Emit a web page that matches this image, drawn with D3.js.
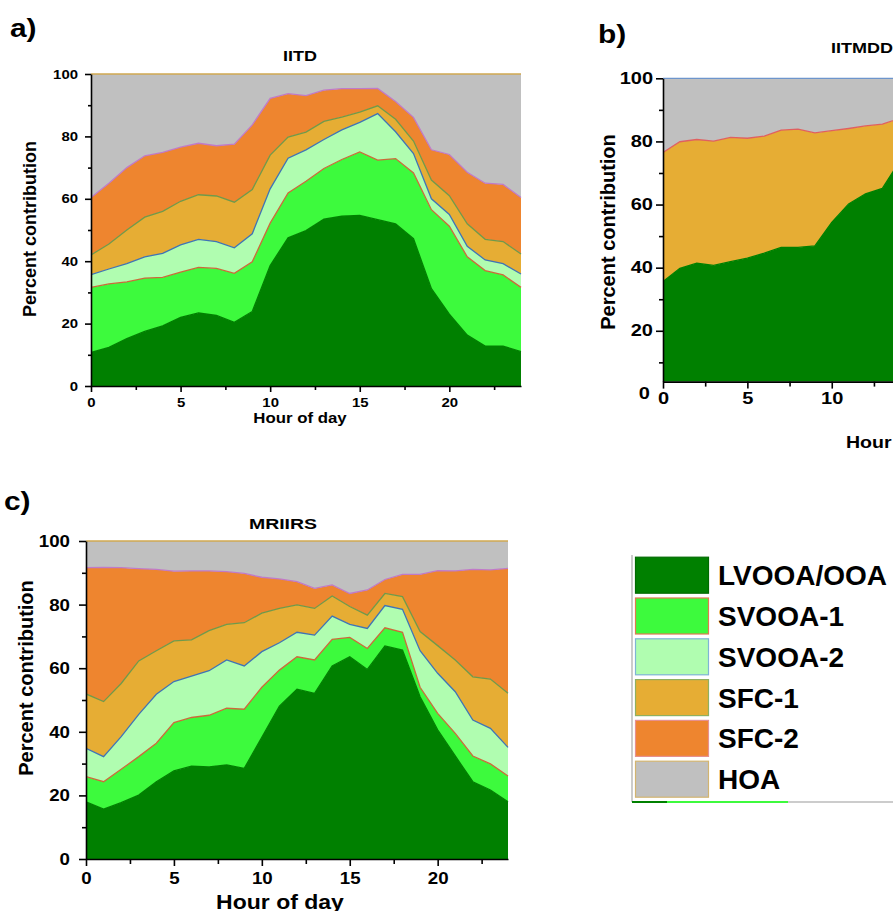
<!DOCTYPE html>
<html>
<head>
<meta charset="utf-8">
<script src="https://cdn.jsdelivr.net/npm/d3@7"></script>
<style>
body { margin: 0; background: #fff; }
text { font-family: "Liberation Sans", Arial, sans-serif; font-weight: bold; }
</style>
</head>
<body>
<div id="chart"></div>
<script>
// hour of day (categories)
var hours = [0,1,2,3,4,5,6,7,8,9,10,11,12,13,14,15,16,17,18,19,20,21,22,23,24];
var hoursB = [0,1,2,3,4,5,6,7,8,9,10,11,12,13,14]; // only the visible part of panel b

var factors = ["LVOOA/OOA", "SVOOA-1", "SVOOA-2", "SFC-1", "SFC-2", "HOA"];
var factorsB = ["LVOOA/OOA", "SFC-1", "HOA"];

// a) IITD, percent contribution per factor
var iitdLVOOA  = [10.8,12.4,15.2,17.5,19.3,22.0,23.4,22.6,20.4,23.9,38.6,47.5,49.8,53.5,54.4,54.7,53.3,52.0,47.2,31.2,23.0,16.3,12.8,12.8,11.0];
var iitdSVOOA1 = [20.8,20.3,18.2,17.1,15.5,14.5,14.6,15.1,15.7,15.9,13.6,14.4,15.8,16.2,18.2,20.3,19.1,20.9,21.1,25.3,28.2,25.1,24.2,22.8,20.6];
var iitdSVOOA2 = [4.1,4.8,5.8,6.8,7.7,8.7,9.0,8.6,8.2,9.0,11.0,11.1,10.1,9.3,9.5,9.5,14.9,8.6,6.2,3.5,3.8,3.4,3.4,3.6,4.3];
var iitdSFC1   = [6.3,8.0,10.8,12.7,13.5,14.0,14.3,14.6,14.6,14.2,10.8,6.8,5.7,5.8,4.1,3.3,2.5,4.0,4.0,6.0,6.0,7.2,6.6,7.1,6.4];
var iitdSFC2   = [18.4,19.5,20.0,19.7,18.9,17.4,16.5,16.1,18.6,20.7,18.2,13.9,11.7,10.0,9.1,7.5,5.6,5.7,7.6,9.7,13.2,16.5,18.0,18.3,18.1];
var iitdHOA    = [39.6,35.0,30.0,26.2,25.1,23.4,22.2,23.0,22.5,16.3,7.8,6.3,6.9,5.2,4.7,4.7,4.6,8.8,13.9,24.3,25.8,31.5,35.0,35.4,39.6];

// b) IITMDD
var iitmddLVOOA = [35.6,39.8,41.4,40.7,41.9,43.0,44.6,46.4,46.4,46.9,54.3,60.2,63.4,65.1,73.5];
var iitmddSFC1  = [40.9,40.1,39.2,39.4,39.4,38.0,37.1,37.2,37.5,35.8,29.1,23.9,21.5,20.4,13.7];
var iitmddHOA   = [23.5,20.1,19.4,19.9,18.7,19.0,18.3,16.4,16.1,17.3,16.6,15.9,15.1,14.5,12.8];

// c) MRIIRS
var mriirsLVOOA  = [18.0,15.7,17.7,20.1,24.3,27.7,29.2,29.0,29.6,28.5,38.3,48.1,53.4,52.1,60.7,63.6,59.6,67.0,65.7,51.0,40.6,32.4,24.3,21.7,18.0];
var mriirsSVOOA1 = [7.9,8.6,10.5,12.1,12.1,15.2,15.3,16.2,17.8,18.6,15.7,11.3,10.2,10.5,8.4,6.1,6.6,5.7,5.6,3.0,5.2,7.1,8.1,8.2,8.1];
var mriirsSVOOA2 = [8.9,7.9,10.3,13.3,15.4,12.9,13.0,14.0,15.2,13.6,11.2,8.6,7.7,7.8,7.3,4.1,6.3,7.0,7.2,11.5,12.6,13.1,11.3,11.2,9.0];
var mriirsSFC1   = [17.1,17.3,16.7,16.8,13.7,12.8,11.4,12.6,11.2,13.6,12.1,10.8,8.6,8.4,6.3,5.6,4.2,3.8,4.0,6.0,8.7,10.0,13.6,15.5,17.0];
var mriirsSFC2   = [39.7,42.2,36.4,29.0,25.6,21.9,21.7,18.8,16.6,15.5,11.3,9.3,7.3,6.3,3.5,4.1,7.9,4.4,7.0,18.0,23.6,28.0,33.8,34.3,39.3];
var mriirsHOA    = [8.4,8.3,8.4,8.7,8.9,9.5,9.4,9.4,9.6,10.2,11.4,11.9,12.8,14.9,13.8,16.5,15.4,12.1,10.5,10.5,9.3,9.4,8.9,9.1,8.6];

var xTicks = [0, 5, 10, 15, 20];
var xMinor = [2.5, 7.5, 12.5, 17.5, 22.5];
var yTicks = [0, 20, 40, 60, 80, 100];
var yMinor = [10, 30, 50, 70, 90];

var fills = ["#008000", "#3dfa3d", "#b0fdb0", "#e6ad34", "#ee852f", "#c0c0c0"];
var lineColors = ["#008000", "#cc6a3a", "#3f74b5", "#6f9a4a", "#c07ac8", "#d1a851"];
var swatchBorders = ["#006a00", "#e07a50", "#7fb5d5", "#8fb060", "#e69090", "#d2b470"];

var svg = d3.select("#chart").append("svg")
    .attr("width", 893)
    .attr("height", 911);
svg.append("rect").attr("width", 893).attr("height", 911).attr("fill", "#fff");

// widen text horizontally (the original figure is stretched a bit)
function stretch(sel, sx) {
    sel.each(function() {
        var t = d3.select(this);
        var x = +t.attr("x") || 0;
        t.attr("x", x / sx).attr("transform", "scale(" + sx + ",1)");
    });
}

function label(txt, x, y, size, sx, anchor, rot) {
    var t = svg.append("text").text(txt)
        .attr("font-size", size)
        .attr("text-anchor", anchor || "middle")
        .attr("fill", "#000");
    if (rot) t.attr("transform", "translate(" + x + "," + y + ") rotate(-90)");
    else t.attr("transform", "translate(" + x + "," + y + ") scale(" + sx + ",1)");
    return t;
}

function drawPanel(p) {
    var x = d3.scaleLinear().domain([0, 24]).range(p.xr);
    var y = d3.scaleLinear().domain([p.ymin, 100]).range(p.yr);

    var rows = p.hours.map(function(h, i) {
        var r = {hour: h};
        p.keys.forEach(function(k, j) { r[k] = p.series[j][i]; });
        return r;
    });
    var stacked = d3.stack().keys(p.keys)(rows);

    var clipId = "clip-" + p.id;
    svg.append("clipPath").attr("id", clipId).append("rect")
        .attr("x", p.xr[0])
        .attr("y", p.yr[1] - 2)
        .attr("width", p.xr[1] - p.xr[0] + 2)
        .attr("height", p.yr[0] - p.yr[1] + 2);

    var g = svg.append("g").attr("clip-path", "url(#" + clipId + ")");

    var area = d3.area()
        .x(function(d) { return x(d.data.hour); })
        .y0(function(d) { return y(d[0]); })
        .y1(function(d) { return y(d[1]); });
    var top = d3.line()
        .x(function(d) { return x(d.data.hour); })
        .y(function(d) { return y(d[1]); });

    g.selectAll("path.area")
        .data(stacked)
        .enter().append("path")
        .attr("class", "area")
        .attr("d", area)
        .attr("fill", function(d, i) { return p.fills[i]; });

    g.selectAll("path.top")
        .data(stacked)
        .enter().append("path")
        .attr("class", "top")
        .attr("d", top)
        .attr("fill", "none")
        .attr("stroke", function(d, i) { return p.lines[i]; })
        .attr("stroke-width", 1.3);

    // y axis
    var ya = svg.append("g")
        .attr("transform", "translate(" + p.xr[0] + ",0)")
        .call(d3.axisLeft(y).tickValues(p.yTicks).tickSize(p.tick).tickPadding(p.ypad).tickSizeOuter(0))
        .attr("font-size", p.fs)
        .attr("font-family", null);
    svg.append("g")
        .attr("transform", "translate(" + p.xr[0] + ",0)")
        .call(d3.axisLeft(y).tickValues(yMinor).tickFormat("").tickSize(p.tick - 3).tickSizeOuter(0))
        .call(function(s) { s.select(".domain").remove(); });

    // x axis
    var xa = svg.append("g")
        .attr("transform", "translate(0," + p.yr[0] + ")")
        .call(d3.axisBottom(x).tickValues(xTicks).tickSize(p.tick).tickPadding(p.xpad).tickSizeOuter(0))
        .attr("font-size", p.fs)
        .attr("font-family", null);
    svg.append("g")
        .attr("transform", "translate(0," + p.yr[0] + ")")
        .call(d3.axisBottom(x).tickValues(xMinor).tickFormat("").tickSize(p.tick - 2).tickSizeOuter(0))
        .call(function(s) { s.select(".domain").remove(); });

    svg.selectAll(".tick line, .domain").attr("stroke-width", 1.6);
    ya.selectAll("text").attr("fill", "#000").call(stretch, p.sx);
    xa.selectAll("text").attr("fill", "#000").call(stretch, p.sx);
    return {x: x, y: y};
}

// a) IITD
drawPanel({
    id: "a", hours: hours, keys: factors,
    series: [iitdLVOOA, iitdSVOOA1, iitdSVOOA2, iitdSFC1, iitdSFC2, iitdHOA],
    fills: fills, lines: lineColors,
    xr: [91, 521], yr: [386, 74], ymin: 0, yTicks: yTicks,
    tick: 6, ypad: 7, xpad: 6, fs: 13, sx: 1.15
});
label("a)", 10, 37, 26, 1.15, "start");
label("IITD", 300, 61, 15, 1.2);
label("Hour of day", 300, 423, 14, 1.2);
label("Percent contribution", 36, 229, 18, 1, "middle", true);

// b) IITMDD (cut off by the right edge)
var pb = drawPanel({
    id: "b", hours: hoursB, keys: factorsB,
    series: [iitmddLVOOA, iitmddSFC1, iitmddHOA],
    fills: [fills[0], fills[3], fills[5]],
    lines: ["#008000", "#e06060", "#6d95cc"],
    xr: [663, 1068], yr: [381.6, 78.3], ymin: 3.9, yTicks: [20, 40, 60, 80, 100],
    tick: 7, ypad: 3, xpad: 4, fs: 16, sx: 1.25
});
label("0", 650, pb.y(0) + 5.5, 16, 1.25, "end");
label("b)", 598, 43, 26, 1.15, "start");
label("IITMDD", 862, 53, 15, 1.2);
label("Hour of day", 846, 448, 17, 1.15, "start");
label("Percent contribution", 615, 232, 20, 1, "middle", true);

// c) MRIIRS
drawPanel({
    id: "c", hours: hours, keys: factors,
    series: [mriirsLVOOA, mriirsSVOOA1, mriirsSVOOA2, mriirsSFC1, mriirsSFC2, mriirsHOA],
    fills: fills, lines: lineColors,
    xr: [86, 508], yr: [859, 541], ymin: 0, yTicks: yTicks,
    tick: 7, ypad: 9, xpad: 6, fs: 17, sx: 1.1
});
label("c)", 4, 510, 26, 1.15, "start");
label("MRIIRS", 283, 529, 15, 1.3);
label("Hour of day", 280, 909, 20, 1.15);
label("Percent contribution", 33, 678, 20, 1, "middle", true);

// legend
var legend = svg.append("g");
legend.append("line")
    .attr("x1", 632).attr("x2", 632).attr("y1", 555).attr("y2", 802)
    .attr("stroke", "#999").attr("stroke-width", 1);
legend.append("line")
    .attr("x1", 632).attr("x2", 893).attr("y1", 802).attr("y2", 802)
    .attr("stroke", "#999").attr("stroke-width", 1);
legend.append("line")
    .attr("x1", 632).attr("x2", 667).attr("y1", 802).attr("y2", 802)
    .attr("stroke", fills[0]).attr("stroke-width", 2);
legend.append("line")
    .attr("x1", 667).attr("x2", 788).attr("y1", 802).attr("y2", 802)
    .attr("stroke", fills[1]).attr("stroke-width", 2);

var rowsL = legend.selectAll("g.row")
    .data(factors)
    .enter().append("g")
    .attr("class", "row")
    .attr("transform", function(d, i) { return "translate(0," + (556.7 + i * 40.8) + ")"; });
rowsL.append("rect")
    .attr("x", 635.5).attr("y", 0.5)
    .attr("width", 73).attr("height", 36)
    .attr("fill", function(d, i) { return fills[i]; })
    .attr("stroke", function(d, i) { return swatchBorders[i]; })
    .attr("stroke-width", 1.2);
rowsL.append("text")
    .attr("x", 718).attr("y", 28.5)
    .attr("font-size", 28)
    .attr("fill", "#000")
    .text(function(d) { return d; });
</script>
</body>
</html>
